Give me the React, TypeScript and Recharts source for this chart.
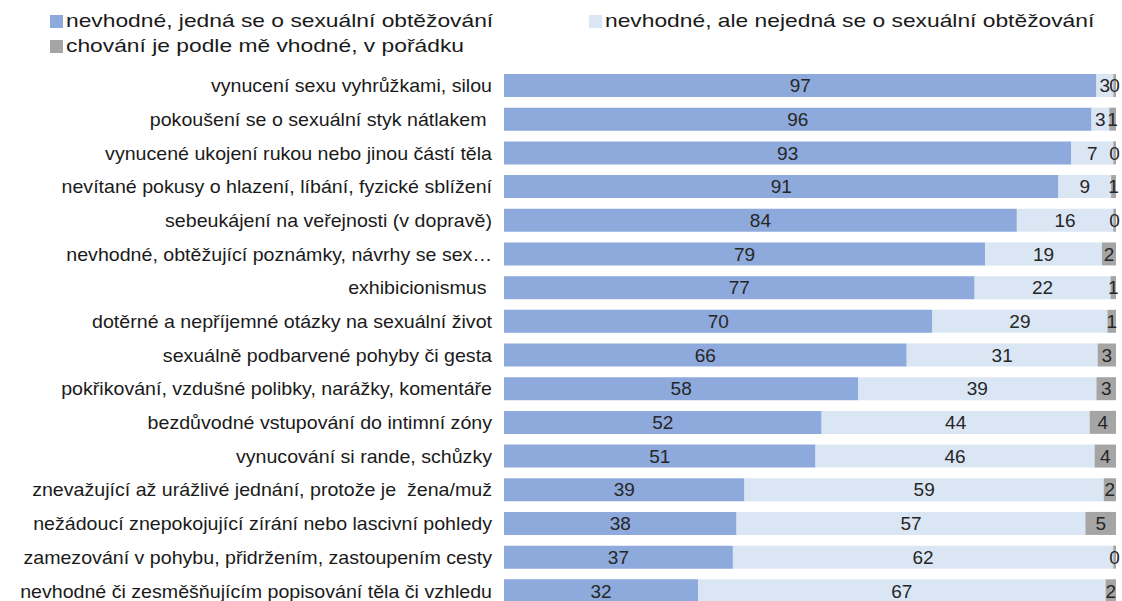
import React from "react";
import { BarChart, Bar, XAxis, YAxis, LabelList } from "recharts";

const categories = [
  "vynucení sexu vyhrůžkami, silou",
  "pokoušení se o sexuální styk nátlakem ",
  "vynucené ukojení rukou nebo jinou částí těla",
  "nevítané pokusy o hlazení, líbání, fyzické sblížení",
  "sebeukájení na veřejnosti (v dopravě)",
  "nevhodné, obtěžující poznámky, návrhy se sex…",
  "exhibicionismus ",
  "dotěrné a nepříjemné otázky na sexuální život",
  "sexuálně podbarvené pohyby či gesta",
  "pokřikování, vzdušné polibky, narážky, komentáře",
  "bezdůvodné vstupování do intimní zóny",
  "vynucování si rande, schůzky",
  "znevažující až urážlivé jednání, protože je  žena/muž",
  "nežádoucí znepokojující zírání nebo lascivní pohledy",
  "zamezování v pohybu, přidržením, zastoupením cesty",
  "nevhodné či zesměšňujícím popisování těla či vzhledu",
];

const harassment = [96.8, 96.0, 92.7, 90.6, 83.8, 78.6, 76.9, 70.0, 65.8, 57.9, 51.9, 50.9, 39.3, 38.0, 37.4, 31.7];
const notHarassment = [2.75, 2.9, 6.85, 8.6, 15.75, 19.1, 22.2, 28.6, 31.2, 38.9, 43.8, 45.6, 58.7, 57.0, 62.15, 66.6];
const appropriate = [0.45, 1.1, 0.45, 0.8, 0.45, 2.3, 0.9, 1.4, 3.0, 3.2, 4.3, 3.5, 2.0, 5.0, 0.45, 1.7];

const seriesNames = [
  "nevhodné, jedná se o sexuální obtěžování",
  "nevhodné, ale nejedná se o sexuální obtěžování",
  "chování je podle mě vhodné, v pořádku",
];

const COLORS = ["#8eaadc", "#dae6f4", "#a5a5a5"];
const FONT = "'Liberation Sans', Arial, sans-serif";

const data = categories.map((name, i) => ({
  name,
  a: harassment[i],
  b: notHarassment[i],
  c: appropriate[i],
}));

// source text is a bit stretched horizontally, so widen the glyphs a little
const CategoryTick = (props: any) => {
  const { x, y, payload } = props;
  return (
    <text
      transform={`translate(${x} ${y}) scale(1.09 1)`}
      x={0}
      y={0}
      dy="0.355em"
      textAnchor="end"
      fill="#1a1a1a"
      fontSize={18}
      fontFamily={FONT}
      style={{ whiteSpace: "pre" }}
    >
      {payload.value}
    </text>
  );
};

const labelStyle = { fontSize: 19, fill: "#262626", fontFamily: FONT };
const fmt = (v: any) => Math.round(Number(v));

const legendPos = [
  { left: 50, top: 10 },
  { left: 589, top: 10 },
  { left: 50, top: 35 },
];

export default function App() {
  return (
    <div
      style={{
        position: "absolute",
        left: 0,
        top: 0,
        width: 1122,
        height: 601,
        overflow: "hidden",
        background: "#fff",
      }}
    >
      {seriesNames.map((s, i) => (
        <div
          key={s}
          style={{
            position: "absolute",
            left: legendPos[i].left,
            top: legendPos[i].top,
            display: "flex",
            alignItems: "center",
            fontFamily: FONT,
            fontSize: 19,
            color: "#1a1a1a",
            whiteSpace: "nowrap",
          }}
        >
          <span
            style={{
              width: 13,
              height: 13,
              background: COLORS[i],
              marginRight: 3,
              display: "inline-block",
            }}
          ></span>
          <span
            style={{
              display: "inline-block",
              transform: "scaleX(1.2)",
              transformOrigin: "left center",
            }}
          >
            {s}
          </span>
        </div>
      ))}
      <BarChart
        width={1122}
        height={620}
        data={data}
        layout="vertical"
        margin={{ top: 69, right: 6, bottom: 12, left: 0 }}
        barSize={23}
      >
        <XAxis type="number" domain={[0, 100]} hide />
        <YAxis
          type="category"
          dataKey="name"
          width={504}
          axisLine={false}
          tickLine={false}
          tickSize={0}
          tickMargin={12}
          interval={0}
          tick={<CategoryTick />}
        />
        <Bar dataKey="a" stackId="s" fill={COLORS[0]} name={seriesNames[0]} isAnimationActive={false}>
          <LabelList dataKey="a" position="center" formatter={fmt} style={labelStyle} />
        </Bar>
        <Bar dataKey="b" stackId="s" fill={COLORS[1]} name={seriesNames[1]} isAnimationActive={false}>
          <LabelList dataKey="b" position="center" formatter={fmt} style={labelStyle} />
        </Bar>
        <Bar dataKey="c" stackId="s" fill={COLORS[2]} name={seriesNames[2]} isAnimationActive={false}>
          <LabelList dataKey="c" position="center" formatter={fmt} style={labelStyle} />
        </Bar>
      </BarChart>
    </div>
  );
}
